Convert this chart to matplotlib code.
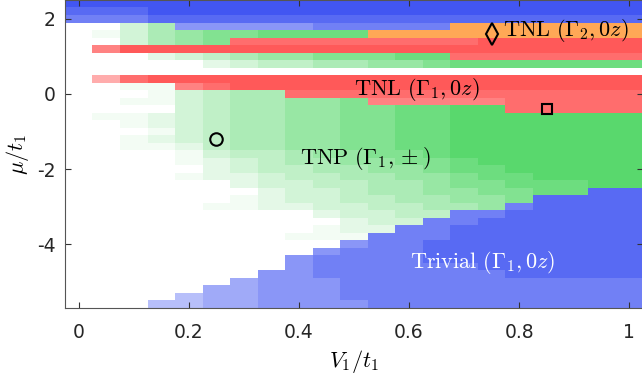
import numpy as np
import matplotlib
matplotlib.use("Agg")
import matplotlib.pyplot as plt

plt.rcParams['mathtext.fontset'] = 'cm'
plt.rcParams['font.family'] = ['DejaVu Sans']

# grid of the phase diagram
v1 = [0.0, 0.05, 0.1, 0.15, 0.2, 0.25, 0.3, 0.35, 0.4, 0.45, 0.5,
      0.55, 0.6, 0.65, 0.7, 0.75, 0.8, 0.85, 0.9, 0.95, 1.0]
mu = [2.4, 2.2, 2.0, 1.8, 1.6, 1.4, 1.2, 1.0, 0.8, 0.6, 0.4, 0.2, 0.0,
      -0.2, -0.4, -0.6, -0.8, -1.0, -1.2, -1.4, -1.6, -1.8, -2.0, -2.2,
      -2.4, -2.6, -2.8, -3.0, -3.2, -3.4, -3.6, -3.8, -4.0, -4.2, -4.4,
      -4.6, -4.8, -5.0, -5.2, -5.4, -5.6]

# phase per cell (rows = mu from top, cols = v1)
# B trivial, G TNP, R TNL(G1), O TNL(G2), . none
phase = [
    "BBBBBBBBBBBBBBBBBBBBB",
    "BBBBBBBBBBBBBBBBBBBBB",
    "BBBBBBBBBBBBBBBBBBBBB",
    "..GGBBBBBBBBBBOOOOOOO",
    ".GGGGGGGGGGOOOOOOOOOO",
    "..GGGGRRRRRRRRRRRRRRR",
    ".RRRRRRRRRRRRRRRRRRRR",
    "...GGGGGGGGGGGRRRRRRR",
    ".....GGGGGGGGGGGGGGGG",
    ".....................",
    ".RRRRRRRRRRRRRRRRRRRR",
    "..GGRRRRRRRRRRRRRRRRR",
    "...GGGGGRRRRRRRRRRRRR",
    "..GGGGGGGGGRRRRRRRRRR",
    "....GGGGGGGGGGGGRRRRR",
    ".GGGGGGGGGGGGGGGGGGGG",
    "..GGGGGGGGGGGGGGGGGGG",
    "...GGGGGGGGGGGGGGGGGG",
    "..GGGGGGGGGGGGGGGGGGG",
    "..GGGGGGGGGGGGGGGGGGG",
    "....GGGGGGGGGGGGGGGGG",
    "....GGGGGGGGGGGGGGGGG",
    ".....GGGGGGGGGGGGGGGG",
    "....GGGGGGGGGGGGGGGGG",
    "......GGGGGGGGGGGGGGG",
    ".......GGGGGGGGGGGGBB",
    "......GGGGGGGGGGGBBBB",
    ".....GGGGGGGGGGGBBBBB",
    ".........GGGGGBBBBBBB",
    "..........GGGBBBBBBBB",
    ".........GGGBBBBBBBBB",
    "........GGGBBBBBBBBBB",
    "..........BBBBBBBBBBB",
    ".........BBBBBBBBBBBB",
    "........BBBBBBBBBBBBB",
    "........BBBBBBBBBBBBB",
    ".......BBBBBBBBBBBBBB",
    "......BBBBBBBBBBBBBBB",
    ".....BBBBBBBBBBBBBBBB",
    "....BBBBBBBBBBBBBBBBB",
    "...BBBBBBBBBBBBBBBBBB",
]

# colour strength per cell, 0 (white) .. 9 (full)
shade = [
    "999999999999999999999",
    "888999999999999999999",
    "777888888888888888888",
    "003566666777779999999",
    "013567788889999999999",
    "003567888888888999999",
    "079999999999999999999",
    "000234566777888888888",
    "000002344556678888888",
    "000000000000000000000",
    "058999999999999999999",
    "001178999999999999999",
    "000134558888888888888",
    "001134556677777788888",
    "000034556677889988888",
    "011234556677889999999",
    "001234556677889999999",
    "000134556677889999999",
    "001234556677889999999",
    "001124556677889999999",
    "000013445667789999999",
    "000012345566778999999",
    "000002344556678899999",
    "000012234455667889999",
    "000000233445567788899",
    "000000023345566778888",
    "000000123344556678888",
    "000001122334455678888",
    "000000000233447788888",
    "000000000023377888888",
    "000000000122778888888",
    "000000001117778888888",
    "000000000067788888888",
    "000000000677788888888",
    "000000006777788888888",
    "000000006777777888888",
    "000000066777777788888",
    "000000566677777777777",
    "000005566677777777777",
    "000045566677777777777",
    "000445566667777777777",
]

levels = [0, 0.07, 0.16, 0.27, 0.38, 0.5, 0.62, 0.75, 0.88, 1.0]
base = {'B': (0.26, 0.34, 0.95), 'G': (0.35, 0.85, 0.43),
        'R': (1.0, 0.35, 0.35), 'O': (1.0, 0.66, 0.34), '.': (1, 1, 1)}

rgb = np.ones((len(mu), len(v1), 3))
for i in range(len(mu)):
    for j in range(len(v1)):
        a = levels[int(shade[i][j])]
        c = np.array(base[phase[i][j]])
        rgb[i, j] = 1 - a * (1 - c)

dv = v1[1] - v1[0]
dm = mu[0] - mu[1]
ext = [v1[0] - dv / 2, v1[-1] + dv / 2, mu[-1] - dm / 2, mu[0] + dm / 2]

fig = plt.figure(figsize=(6.42, 3.81), dpi=100)
ax = fig.add_axes([65 / 642, 73 / 381, 578 / 642, 308 / 381])
ax.imshow(rgb, extent=ext, aspect='auto', interpolation='nearest', origin='upper')
ax.set_xlim(ext[0], ext[1])
ax.set_ylim(ext[2], ext[3])

# marked points
ax.plot(0.75, 1.6, marker='d', ms=11, mfc='none', mec='k', mew=1.5)
ax.plot(0.85, -0.4, marker='s', ms=7, mfc='none', mec='k', mew=1.5)
ax.plot(0.25, -1.2, marker='o', ms=9, mfc='none', mec='k', mew=1.5)

fs = 16
ax.text(0.771, 1.68, r'$\mathrm{TNL}\ (\Gamma_2,0z)$', fontsize=fs, va='center')
ax.text(0.5, 0.13, r'$\mathrm{TNL}\ (\Gamma_1,0z)$', fontsize=fs, va='center')
ax.text(0.402, -1.73, r'$\mathrm{TNP}\ (\Gamma_1,\pm)$', fontsize=fs, va='center')
ax.text(0.602, -4.5, r'$\mathrm{Trivial}\ (\Gamma_1,0z)$', fontsize=fs,
        va='center', color='white')

ax.set_xticks([0, 0.2, 0.4, 0.6, 0.8, 1.0])
ax.set_xticklabels(['0', '0.2', '0.4', '0.6', '0.8', '1'])
ax.set_yticks([-4, -2, 0, 2])
ax.set_yticklabels(['-4', '-2', '0', '2'])
ax.tick_params(direction='in', top=True, right=True, length=4, width=0.8,
               color='#333333', labelsize=13.5, labelcolor='#262626')
ax.tick_params(axis='x', pad=11)
ax.tick_params(axis='y', pad=7)
for s in ax.spines.values():
    s.set_color('#555555')
    s.set_linewidth(0.8)

ax.set_xlabel(r'$V_1/t_1$', fontsize=16, labelpad=4)
ax.set_ylabel(r'$\mu/t_1$', fontsize=16, labelpad=4)

fig.savefig('out.png', dpi=100)
